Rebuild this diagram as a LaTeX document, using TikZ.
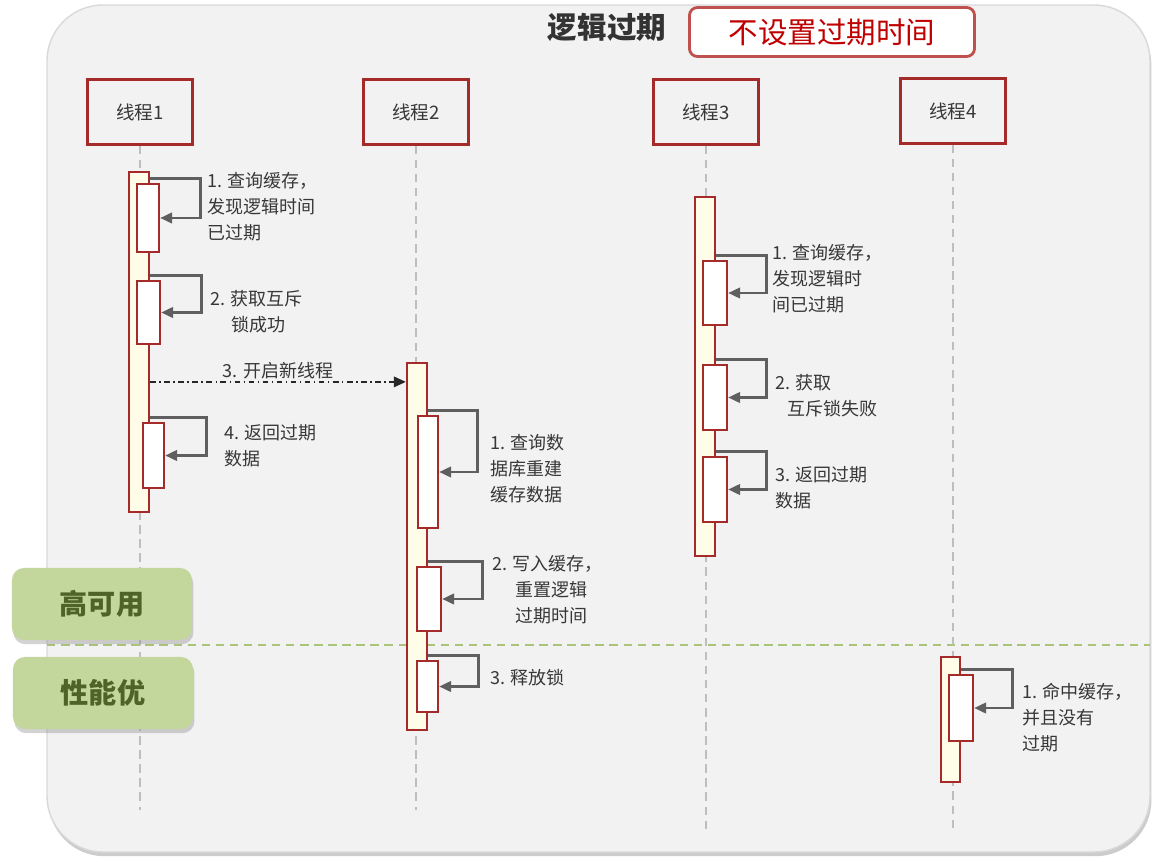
\documentclass[tikz,border=0pt]{standalone}
\usepackage{fontspec}
\setmainfont{Noto Sans CJK SC}
\usepackage{tikz}
\usetikzlibrary{arrows,arrows.meta,fit,shadows}

\definecolor{thrRed}{RGB}{165,42,42}
\definecolor{barYellow}{RGB}{255,253,231}
\definecolor{arrGray}{RGB}{95,95,95}
\definecolor{lifeGray}{RGB}{190,190,190}
\definecolor{txtGray}{RGB}{55,55,55}
\definecolor{bgGray}{RGB}{242,242,242}
\definecolor{bdGray}{RGB}{217,217,217}
\definecolor{boxRed}{RGB}{192,80,77}
\definecolor{noRed}{RGB}{192,0,0}
\definecolor{tagGreen}{RGB}{195,214,155}
\definecolor{tagText}{RGB}{79,98,40}
\definecolor{sepGreen}{RGB}{170,196,120}

\begin{document}
\begin{tikzpicture}[x=0.025cm,y=-0.025cm,>={Triangle[length=0.3cm,width=0.26cm]},auto]
	\tikzstyle{every node}=[text=txtGray,font=\fontsize{12.8}{18.6}\selectfont]
	\tikzstyle{thr}=[draw=thrRed,line width=1.6pt,minimum width=2.625cm,minimum height=1.625cm,font=\fontsize{13.2}{16}\selectfont]
	\tikzstyle{life}=[draw=lifeGray,line width=1.1pt,dash pattern=on 6pt off 4pt]
	\tikzstyle{bar}=[draw=thrRed,fill=barYellow,line width=1.6pt,inner sep=0pt]
	\tikzstyle{act}=[draw=thrRed,fill=white,line width=1.6pt,inner sep=0pt]
	\tikzstyle{self}=[->,draw=arrGray,line width=2pt]
	\tikzstyle{call}=[->,draw=txtGray!70!black,line width=1.4pt,dash pattern=on 4pt off 2.5pt on 1pt off 2.5pt]
	\tikzstyle{msg}=[align=left,anchor=north west,inner sep=0pt]
	\tikzstyle{tag}=[fill=tagGreen,rounded corners=0.3cm,minimum width=4.5cm,minimum height=1.8cm,text=tagText,font=\fontsize{20}{24}\selectfont\bfseries,drop shadow={shadow xshift=1pt,shadow yshift=-3pt,opacity=0.35}]

	\useasboundingbox (0,0) rectangle (1170,860);
	\filldraw[fill=bgGray,draw=bdGray,line width=1pt,rounded corners=1.4cm,drop shadow={shadow xshift=1pt,shadow yshift=-3pt,opacity=0.4}] (47,5) rectangle (1150,852);

	% heading
	\node[font=\fontsize{21}{24}\selectfont\bfseries,text=black!80] (TTL) at (607,27) {逻辑过期};
	\node[draw=boxRed,line width=2pt,rounded corners=0.2cm,fill=white,minimum width=7.125cm,minimum height=1.225cm,text=noRed,font=\fontsize{21}{24}\selectfont] (NOEXP) at (832,32) {不设置过期时间};

	% separator
	\coordinate (G1) at (47,645);
	\coordinate (G2) at (1150,645);
	\draw[draw=sepGreen,line width=1.4pt,dash pattern=on 6pt off 4pt] (G1) -- (G2);

	% threads
	\node[thr] (T1) at (140,112) {线程1};
	\node[thr] (T2) at (416,112) {线程2};
	\node[thr] (T3) at (706,112) {线程3};
	\node[thr] (T4) at (953,111) {线程4};

	\coordinate (E1) at (140,810);
	\coordinate (E2) at (416,810);
	\coordinate (E3) at (706,830);
	\coordinate (E4) at (953,830);
	\foreach \t/\e in {T1/E1,T2/E2,T3/E3,T4/E4}
		\draw[life] (\t) -- (\e);

	% activations
	\node[bar,fit={(129,172) (149,512)}] (L1) {};
	\node[bar,fit={(407,363) (427,730)}] (L2) {};
	\node[bar,fit={(695,197) (715,556)}] (L3) {};
	\node[bar,fit={(941,657) (960,782)}] (L4) {};

	\node[act,fit={(137,184) (159,252)}] (A11) {};
	\node[act,fit={(137,281) (160,344)}] (A12) {};
	\node[act,fit={(143,423) (164,488)}] (A13) {};
	\node[act,fit={(418,416) (438,528)}] (A21) {};
	\node[act,fit={(417,567) (441,631)}] (A22) {};
	\node[act,fit={(417,661) (438,712)}] (A23) {};
	\node[act,fit={(703,261) (727,325)}] (A31) {};
	\node[act,fit={(703,365) (727,430)}] (A32) {};
	\node[act,fit={(703,457) (727,522)}] (A33) {};
	\node[act,fit={(949,675) (973,741)}] (A41) {};

	\foreach \a/\l/\w in {A11/L1/50,A12/L1/51,A13/L1/56,A21/L2/49,A22/L2/54,A23/L2/50,A31/L3/50,A32/L3/50,A33/L3/50,A41/L4/51}
		\draw[self] ([yshift=0.1cm]\a.north -| \l.east) -- ++(\w,0) |- (\a.east);

	\coordinate (M) at ([yshift=-0.5cm]L2.north west);
	\draw[call] (L1.east |- M) -- node[above,inner sep=1pt] {3. 开启新线程} (M);

	% texts
	\node[msg] (N11) at (207,172) {1. 查询缓存，\\发现逻辑时间\\已过期};
	\node[msg] (N12) at (210,290) {2. 获取互斥\\\hspace*{1.2em}锁成功};
	\node[msg] (N14) at (224,424) {4. 返回过期\\数据};
	\node[msg] (N21) at (490,434) {1. 查询数\\据库重建\\缓存数据};
	\node[msg] (N22) at (492,555) {2. 写入缓存，\\\hspace*{1.3em}重置逻辑\\\hspace*{1.3em}过期时间};
	\node[msg] (N23) at (490,669) {3. 释放锁};
	\node[msg] (N31) at (772,244) {1. 查询缓存，\\发现逻辑时\\间已过期};
	\node[msg] (N32) at (775,374) {2. 获取\\\hspace*{0.7em}互斥锁失败};
	\node[msg] (N33) at (775,466) {3. 返回过期\\数据};
	\node[msg] (N41) at (1022,683) {1. 命中缓存，\\并且没有\\过期};

	% tags
	\node[tag] (HA) at (102,604) {高可用};
	\node[tag] (HP) at (103,693) {性能优};
\end{tikzpicture}
\end{document}
